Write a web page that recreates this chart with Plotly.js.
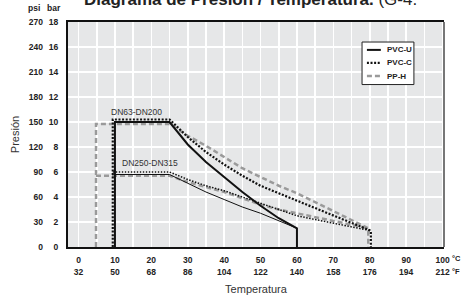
<!DOCTYPE html>
<html>
<head>
<meta charset="utf-8">
<script src="https://cdn.plot.ly/plotly-3.0.1.min.js"></script>
<style>html,body{margin:0;padding:0;background:#fff;}#chart{width:469px;height:298px;}</style>
</head>
<body>
<div id="chart"></div>
<script>
// ---- data ----
const tickC = ['0','10','20','30','40','50','60','70','80','90','100'];
const tickF = ['32','50','68','86','104','122','140','158','176','194','212'];
const tickBar = ['0','2','4','6','8','10','12','14','16','18'];
const tickPsi = ['0','30','60','90','120','150','180','210','240','270'];
const legendNames = ['PVC-U', 'PVC-C', 'PP-H'];

// PVC-U
const pvcU_start = 10;
const pvcU_temps = [25, 30, 35, 40, 45, 50, 55, 60];
const pvcU_DN63  = [10, 8.2, 6.8, 5.6, 4.4, 3.3, 2.3, 1.5];
const pvcU_DN250 = [5.8, 5.1, 4.4, 3.8, 3.2, 2.7, 2.1, 1.5];
// PVC-C
const pvcC_start = 9.4;
const pvcC_temps = [25, 30, 35, 40, 45, 50, 55, 60, 65, 70, 75, 80.3];
const pvcC_DN63  = [10.2, 8.8, 7.6, 6.6, 5.7, 4.9, 4.3, 3.7, 3.1, 2.5, 1.9, 1.3];
const pvcC_DN250 = [6.0, 5.4, 4.9, 4.5, 4.0, 3.5, 3.0, 2.5, 2.2, 1.9, 1.6, 1.3];
// PP-H
const ppH_start = 4.8;
const ppH_temps = [25, 30, 35, 40, 45, 50, 55, 60, 65, 70, 75, 79.6];
const ppH_DN63  = [9.85, 8.9, 8.1, 7.2, 6.3, 5.6, 4.9, 4.3, 3.6, 2.9, 2.2, 1.5];
const ppH_DN250 = [5.7, 5.2, 4.8, 4.4, 3.9, 3.4, 3.0, 2.7, 2.4, 2.1, 1.8, 1.5];

// ---- build paths ----
function mainPath(start, temps, vals) {
  const last = temps[temps.length - 1];
  return {
    x: [start, start].concat(temps, [last]),
    y: [0, vals[0]].concat(vals, [0])
  };
}
function branchPath(start, temps, vals) {
  return { x: [start].concat(temps), y: [vals[0]].concat(vals) };
}

const FONT = 'Liberation Sans, Arial, sans-serif';
const stylesMain = {
  'PVC-U': {color: '#111', width: 2, dash: 'solid'},
  'PVC-C': {color: '#111', width: 2.2, dash: '2px,1.6px'},
  'PP-H':  {color: '#9a9a9a', width: 2.5, dash: '5px,3px'}
};
const stylesBranch = {
  'PVC-U': {color: '#111', width: 1, dash: 'solid'},
  'PVC-C': {color: '#111', width: 1.5, dash: '1.5px,1.5px'},
  'PP-H':  {color: '#9a9a9a', width: 2.5, dash: '5px,3px'}
};

const series = [
  ['PP-H', ppH_start, ppH_temps, ppH_DN63, ppH_DN250],
  ['PVC-C', pvcC_start, pvcC_temps, pvcC_DN63, pvcC_DN250],
  ['PVC-U', pvcU_start, pvcU_temps, pvcU_DN63, pvcU_DN250]
];
const traces = [];
series.forEach(s => {
  const [name, st, t, a, b] = s;
  const m = mainPath(st, t, a);
  const br = branchPath(st, t, b);
  traces.push({x: br.x, y: br.y, type: 'scatter', mode: 'lines', name: name + ' DN250-DN315',
    showlegend: false, line: stylesBranch[name], hoverinfo: 'skip'});
  traces.push({x: m.x, y: m.y, type: 'scatter', mode: 'lines', name: name,
    showlegend: false, line: stylesMain[name]});
});
// invisible trace to activate second x-axis (°F row) and second y-axis (psi)
traces.push({x: [0], y: [0], xaxis: 'x2', yaxis: 'y2', mode: 'markers',
  marker: {opacity: 0}, showlegend: false, hoverinfo: 'skip'});

const xv5 = [];
const xt5 = [];
for (let i = 0; i <= 20; i++) { xv5.push(i * 5); xt5.push(i % 2 === 0 ? tickC[i / 2] : ''); }
const xv10 = tickC.map(Number);
const yv = tickBar.map(Number);

const tickFont = {family: FONT, size: 8.5, color: '#222', weight: 'bold'};

// custom compact legend (paper coordinates)
const legShapes = [
  {type: 'rect', xref: 'paper', yref: 'paper', x0: 0.782, x1: 0.920, y0: 0.722, y1: 0.911,
   fillcolor: '#ffffff', line: {color: '#222', width: 1}, layer: 'above'}
];
const legAnn = [];
const rowsY = [0.876, 0.818, 0.760];
legendNames.forEach((n, i) => {
  const st = stylesMain[n];
  legShapes.push({type: 'line', xref: 'paper', yref: 'paper', x0: 0.795, x1: 0.832,
    y0: rowsY[i], y1: rowsY[i], line: {color: st.color, width: st.width, dash: st.dash}, layer: 'above'});
  legAnn.push({text: n, xref: 'paper', yref: 'paper', x: 0.842, xanchor: 'left', y: rowsY[i],
    yanchor: 'middle', showarrow: false, font: {family: FONT, size: 8, color: '#222', weight: 'bold'}});
});

const layout = {
  width: 469, height: 298,
  margin: {l: 68, r: 25, t: 22, b: 51},
  paper_bgcolor: '#ffffff',
  plot_bgcolor: '#e6e7e8',
  showlegend: false,
  xaxis: {range: [-2.9, 100.4], tickvals: xv5, ticktext: xt5, ticks: '',
    showgrid: true, gridcolor: '#ffffff', gridwidth: 1.5, zeroline: false,
    showline: true, linecolor: '#111', linewidth: 2, mirror: true,
    ticklabelstandoff: 4, tickfont: tickFont, fixedrange: true},
  xaxis2: {overlaying: 'x', anchor: 'y', side: 'bottom', range: [-2.9, 100.4],
    tickvals: xv10, ticktext: tickF, ticks: '', showgrid: false, zeroline: false,
    showline: false, ticklabelstandoff: 18, tickfont: tickFont,
    title: {text: 'Temperatura', font: {family: FONT, size: 11, color: '#333'}, standoff: 9}},
  yaxis: {range: [0, 18], tickvals: yv, ticktext: tickBar, ticks: '',
    showgrid: true, gridcolor: '#ffffff', gridwidth: 1.5, zeroline: false,
    showline: true, linecolor: '#111', linewidth: 2,
    ticklabelstandoff: 6, tickfont: tickFont},
  yaxis2: {overlaying: 'y', anchor: 'x', side: 'left', range: [0, 18],
    tickvals: yv, ticktext: tickPsi, ticks: '', showgrid: false, zeroline: false,
    showline: false, ticklabelstandoff: 24, tickfont: tickFont,
    title: {text: 'Presión', font: {family: FONT, size: 11, color: '#333'}, standoff: 6}},
  shapes: [
    {type: 'line', xref: 'paper', yref: 'paper', x0: 1, x1: 1, y0: 0, y1: 1,
     line: {color: '#777', width: 2}}
  ].concat(legShapes),
  annotations: [
    {text: '<b>Diagrama de Presión / Temperatura.</b> (G-4.', xref: 'paper', yref: 'paper',
     x: 0.037, xanchor: 'left', y: 1.098, yanchor: 'middle', showarrow: false,
     font: {family: FONT, size: 17, color: '#222'}},
    {text: 'psi', xref: 'paper', yref: 'paper', x: -0.069, xanchor: 'right', y: 1.062,
     yanchor: 'middle', showarrow: false, font: tickFont},
    {text: 'bar', xref: 'paper', yref: 'paper', x: -0.013, xanchor: 'right', y: 1.062,
     yanchor: 'middle', showarrow: false, font: tickFont},
    {text: '°C', xref: 'paper', yref: 'paper', x: 1.016, xanchor: 'left', y: -0.049,
     yanchor: 'middle', showarrow: false, font: {family: FONT, size: 7.5, color: '#222', weight: 'bold'}},
    {text: '°F', xref: 'paper', yref: 'paper', x: 1.016, xanchor: 'left', y: -0.111,
     yanchor: 'middle', showarrow: false, font: {family: FONT, size: 7.5, color: '#222', weight: 'bold'}},
    {text: 'DN63-DN200', x: 16.0, y: 10.8, xref: 'x', yref: 'y', showarrow: false,
     font: {family: FONT, size: 8.5, color: '#333'}},
    {text: 'DN250-DN315', x: 19.6, y: 6.7, xref: 'x', yref: 'y', showarrow: false,
     font: {family: FONT, size: 8.5, color: '#333'}}
  ].concat(legAnn)
};

Plotly.newPlot('chart', traces, layout, {staticPlot: true, displayModeBar: false});
</script>
</body>
</html>
